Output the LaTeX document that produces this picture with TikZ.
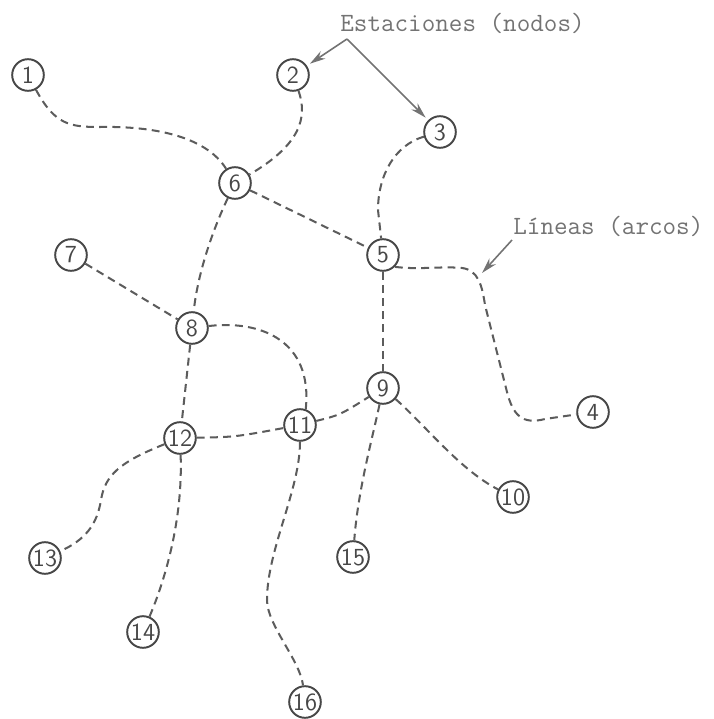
\documentclass[tikz,border=0pt]{standalone}
\usetikzlibrary{arrows.meta}
\definecolor{ink}{gray}{0.28}
\definecolor{pencil}{gray}{0.36}
\definecolor{faint}{gray}{0.45}
\tikzset{
  station/.style={circle,draw=ink,line width=1.1pt,minimum size=18pt,inner sep=0pt,
    text=ink,font=\fontsize{14}{14}\sffamily},
  pipe/.style={draw=pencil,line width=1.15pt,dash pattern=on 4.5pt off 3pt},
  callout/.style={draw=faint,line width=.9pt,-{Stealth[length=9pt,width=5pt]},shorten >=2pt},
  tag/.style={text=faint,font=\fontsize{15}{15}\ttfamily,inner sep=0pt,anchor=base west}
}
\begin{document}
\begin{tikzpicture}[x=.02cm,y=-.02cm]
\useasboundingbox (0,0) rectangle (713,719);
% estaciones
\node[station] (n1) at (28,75) {1}; \node[station] (n2) at (293,75) {2};
\node[station] (n3) at (440,132) {3}; \node[station] (n4) at (593,412) {4};
\node[station] (n5) at (383,255) {5}; \node[station] (n6) at (235,183) {6};
\node[station] (n7) at (71,255) {7}; \node[station] (n8) at (192,328) {8};
\node[station] (n9) at (383,388) {9}; \node[station] (n10) at (513,497) {10};
\node[station] (n11) at (300,425) {11}; \node[station] (n12) at (180,438) {12};
\node[station] (n13) at (45,558) {13}; \node[station] (n14) at (143,632) {14};
\node[station] (n15) at (353,557) {15}; \node[station] (n16) at (305,702) {16};
% lineas
\draw[pipe] (n1) .. controls (55,125) and (70,127) .. (100,127)
  .. controls (150,126) and (205,135) .. (n6);
\draw[pipe] (n2) .. controls (308,118) and (300,145) .. (n6);
\draw[pipe] (n3) .. controls (395,145) and (378,175) .. (378,210) -- (n5);
\draw[pipe] (n6) -- (n5); \draw[pipe] (n7) -- (n8); \draw[pipe] (n5) -- (n9);
\draw[pipe] (n6) .. controls (215,225) and (198,270) .. (n8);
\draw[pipe] (n5.-45) .. controls (420,270) and (440,266) .. (462,268)
  .. controls (478,270) and (482,285) .. (485,305) -- (507,392)
  .. controls (513,415) and (522,425) .. (545,419) -- (n4);
\draw[pipe] (n8) .. controls (260,320) and (313,340) .. (n11.70);
\draw[pipe] (n8) -- (n12);
\draw[pipe] (n12) .. controls (235,437) .. (n11);
\draw[pipe] (n11) .. controls (340,415) .. (n9);
\draw[pipe] (n12) .. controls (120,462) and (105,475) .. (101,500)
  .. controls (97,525) and (85,540) .. (n13);
\draw[pipe] (n12) .. controls (183,520) and (165,580) .. (n14);
\draw[pipe] (n11) .. controls (300,490) and (267,550) .. (267,600)
  .. controls (267,625) and (300,660) .. (n16);
\draw[pipe] (n9) .. controls (372,440) and (358,490) .. (n15);
\draw[pipe] (n9) .. controls (425,425) and (460,470) .. (n10);
% rotulos
\node[tag] (est) at (340,32) {Estaciones (nodos)};
\coordinate (est-p) at (347,39);
\draw[callout] (est-p) -- (n2); \draw[callout] (est-p) -- (n3);
\node[tag] (lin) at (513,235) {Líneas (arcos)};
\coordinate (lin-p) at (512,240); \coordinate (lin-q) at (482,273);
\draw[callout,shorten >=0pt] (lin-p) -- (lin-q);
\end{tikzpicture}
\end{document}
